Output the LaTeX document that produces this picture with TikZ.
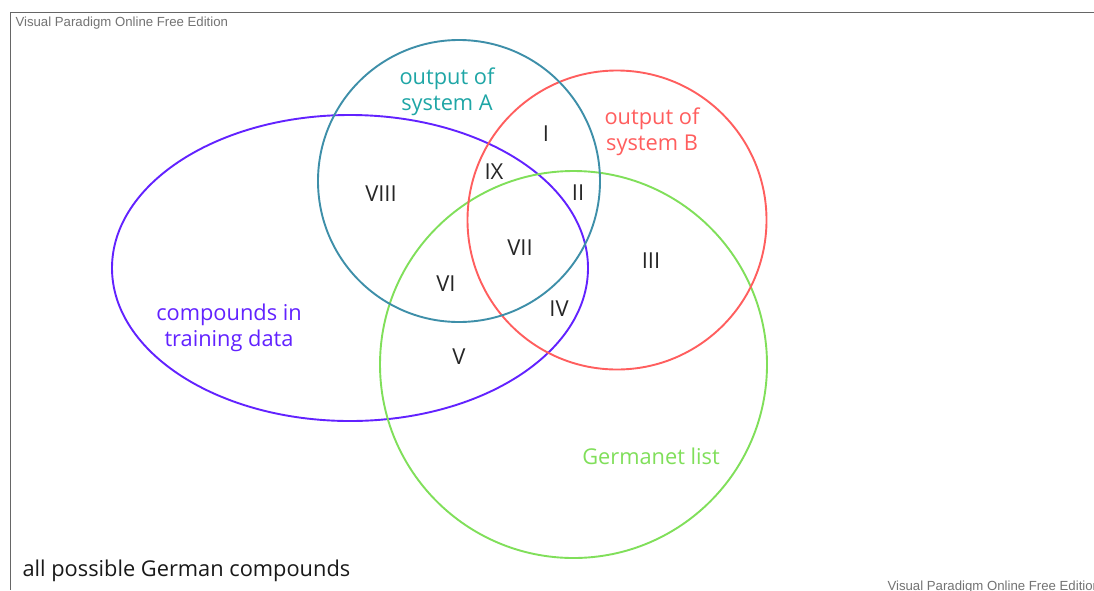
\documentclass[tikz,border=0pt]{standalone}
\usepackage{fontspec}
\setmainfont{Open Sans}
\newfontfamily\wmfont{Liberation Sans}
\definecolor{sysA}{HTML}{3E8FA9}
\definecolor{sysAtext}{HTML}{1FA6A6}
\definecolor{sysB}{HTML}{FF5E5E}
\definecolor{gnet}{HTML}{80DF5A}
\definecolor{train}{HTML}{6222FF}
\tikzset{
  setline/.style={line width=1.9pt},
  region/.style={anchor=center,font=\fontsize{22}{26}\selectfont,text=black!85},
  setlabel/.style={anchor=center,align=center,font=\fontsize{21.8}{26}\selectfont},
  watermark/.style={anchor=west,font=\wmfont\fontsize{13.2}{15}\selectfont,text=black!55}
}
\begin{document}
\begin{tikzpicture}[x=1pt,y=-1pt]
    \useasboundingbox (0,0) rectangle (1094,590);
    \fill[white] (0,0) rectangle (1094,590);
    %% frame
    \draw[black!60,line width=0.8pt] (1094,12) -- (10,12) -- (10,590);
    \node[watermark] (wmtop) at (12,23) {Visual Paradigm Online Free Edition};
    \node[watermark] (wmbot) at (884,587) {Visual Paradigm Online Free Edition};
    %% sets
    \draw[setline,train] (350,268) ellipse (238 and 153);
    \draw[setline,gnet] (573.5,364.5) circle (193.5);
    \draw[setline,sysB] (617,220) circle (149.5);
    \draw[setline,sysA] (459,181) circle (141);
    %% set names
    \node[setlabel,text=sysAtext] (lblA) at (447,92) {output of\\system A};
    \node[setlabel,text=sysB] (lblB) at (652,132) {output of\\system B};
    \node[setlabel,text=train] (lblT) at (229,328) {compounds in\\training data};
    \node[setlabel,text=gnet] (lblG) at (651,456) {Germanet list};
    \node[setlabel,anchor=west,text=black!90] (lblAll) at (19,571) {all possible German compounds};
    %% regions
    \node[region] (rI) at (546,134) {I};
    \node[region] (rII) at (578,193) {II};
    \node[region] (rIII) at (651,261) {III};
    \node[region] (rIV) at (559,309) {IV};
    \node[region] (rV) at (459,357) {V};
    \node[region] (rVI) at (446,284) {VI};
    \node[region] (rVII) at (520,248) {VII};
    \node[region] (rVIII) at (381,194) {VIII};
    \node[region] (rIX) at (494,172) {IX};
\end{tikzpicture}
\end{document}
